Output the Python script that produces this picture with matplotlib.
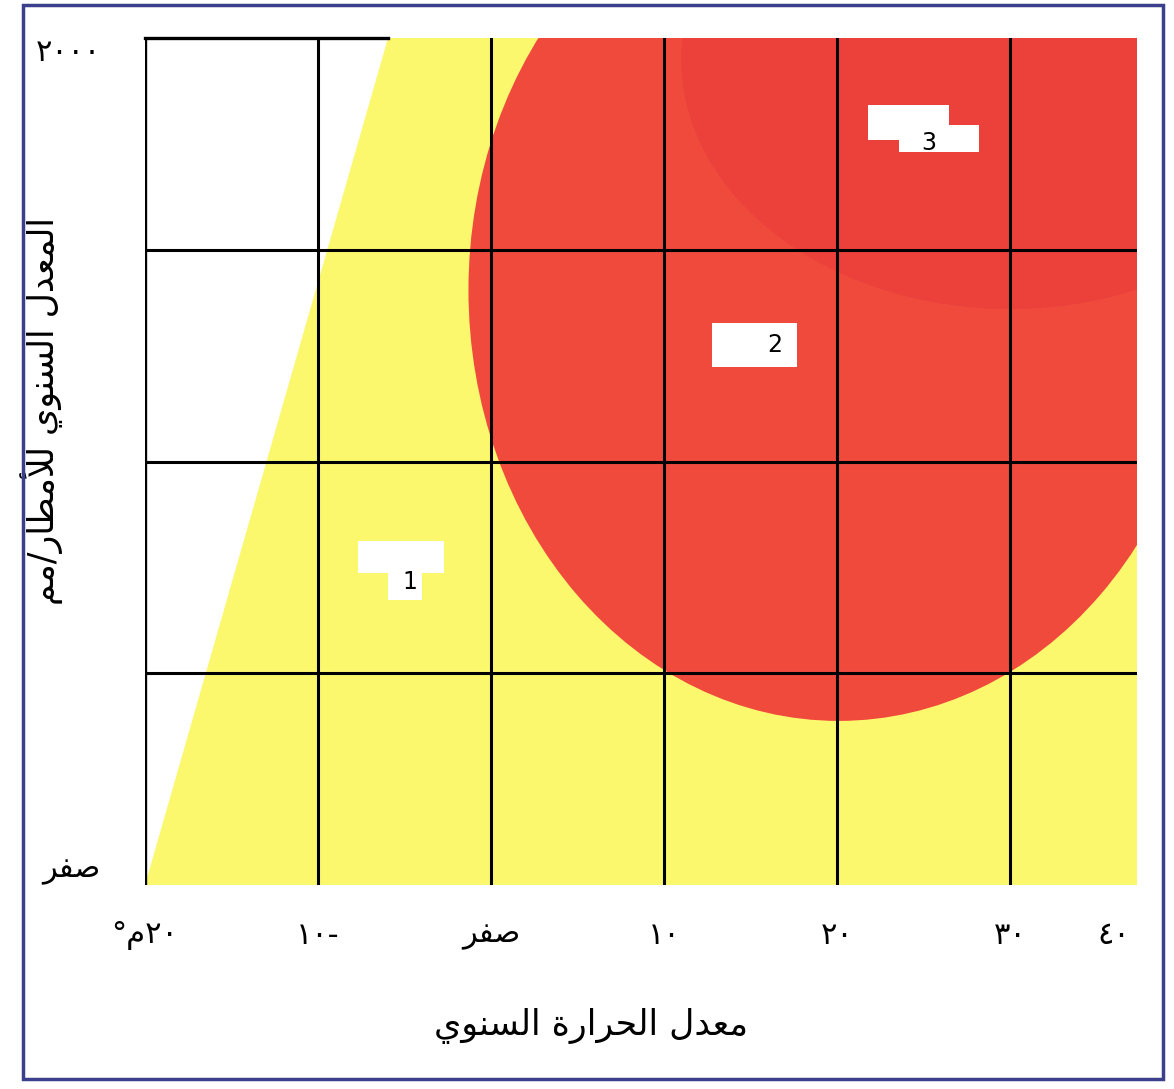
import re
import matplotlib
matplotlib.use("Agg")
import matplotlib.pyplot as plt
from matplotlib.patches import Ellipse, Polygon, Rectangle

# ---- data ----
x_min, x_max = -20, 37.35
y_min, y_max = 0, 2000
grid_x = [-10, 0, 10, 20, 30]
grid_y = [500, 1000, 1500]

x_ticks = [-20, -10, 0, 10, 20, 30, 36]
x_tick_labels = ["٢٠م°", "-١٠", "صفر", "١٠", "٢٠", "٣٠", "٤٠"]
y_ticks = [0, 2000]
y_tick_labels = ["صفر", "٢٠٠٠"]

x_label = "معدل الحرارة السنوي"
y_label = "المعدل السنوي للأمطار/مم"

# yellow zone: left boundary at y = 0 and y = 2000
yellow_edge_x = [-20, -5.95]
# red zone (ellipse) and its slightly darker core
red_center = (20.1, 1405)
red_size = (42.8, 2035)
core_center = (30.0, 1950)
core_size = (38.0, 1180)

# white patches with zone numbers
zone_names = ["1", "2", "3"]
zone_text_xy = [(-4.7, 715), (16.4, 1275), (25.3, 1752)]
patch_rects = [
    [(-7.7, 736, 5.0, 76), (-5.95, 673, 1.95, 90)],
    [(12.8, 1223, 4.9, 104)],
    [(21.8, 1759, 4.7, 83), (23.6, 1731, 4.6, 64)],
]

# ---- minimal arabic shaping (matplotlib draws glyphs left to right) ----
FORMS = {
    "\u0627": ("\uFE8D", "\uFE8E", None, None),
    "\u0623": ("\uFE83", "\uFE84", None, None),
    "\u062F": ("\uFEA9", "\uFEAA", None, None),
    "\u0631": ("\uFEAD", "\uFEAE", None, None),
    "\u0629": ("\uFE93", "\uFE94", None, None),
    "\u0648": ("\uFEED", "\uFEEE", None, None),
    "\u062D": ("\uFEA1", "\uFEA2", "\uFEA3", "\uFEA4"),
    "\u0633": ("\uFEB1", "\uFEB2", "\uFEB3", "\uFEB4"),
    "\u0635": ("\uFEB9", "\uFEBA", "\uFEBB", "\uFEBC"),
    "\u0637": ("\uFEC1", "\uFEC2", "\uFEC3", "\uFEC4"),
    "\u0639": ("\uFEC9", "\uFECA", "\uFECB", "\uFECC"),
    "\u0641": ("\uFED1", "\uFED2", "\uFED3", "\uFED4"),
    "\u0644": ("\uFEDD", "\uFEDE", "\uFEDF", "\uFEE0"),
    "\u0645": ("\uFEE1", "\uFEE2", "\uFEE3", "\uFEE4"),
    "\u0646": ("\uFEE5", "\uFEE6", "\uFEE7", "\uFEE8"),
    "\u064A": ("\uFEF1", "\uFEF2", "\uFEF3", "\uFEF4"),
}
LAM_ALEF = {"\u0627": ("\uFEFB", "\uFEFC"), "\u0623": ("\uFEF7", "\uFEF8")}
DIGITS = "٠١٢٣٤٥٦٧٨٩"


def shape(text):
    out = []
    prev_joins = False
    i = 0
    while i < len(text):
        c = text[i]
        nxt = text[i + 1] if i + 1 < len(text) else ""
        if c not in FORMS:
            out.append(c)
            prev_joins = False
            i += 1
            continue
        if c == "\u0644" and nxt in LAM_ALEF:
            out.append(LAM_ALEF[nxt][1 if prev_joins else 0])
            prev_joins = False
            i += 2
            continue
        iso, fin, ini, med = FORMS[c]
        next_ok = ini is not None and nxt in FORMS
        if prev_joins and next_ok:
            out.append(med)
        elif prev_joins:
            out.append(fin)
        elif next_ok:
            out.append(ini)
        else:
            out.append(iso)
        prev_joins = next_ok
        i += 1
    return "".join(out)


def rtl(text):
    runs = re.findall("[" + DIGITS + "]+|[^" + DIGITS + "]+", shape(text))
    return "".join(r if r[0] in DIGITS else r[::-1] for r in reversed(runs))


plt.rcParams["font.family"] = ["DejaVu Sans"]

fig = plt.figure(figsize=(11.74, 10.89), dpi=100)
ax = fig.add_axes([0.1235, 0.1873, 0.845, 0.7778])
ax.set_xlim(x_min, x_max)
ax.set_ylim(y_min, y_max)
for s in ax.spines.values():
    s.set_visible(False)

yellow = "#FBF86E"
red = "#F04A3D"

ax.add_patch(Polygon([(yellow_edge_x[0], y_min), (yellow_edge_x[1], y_max),
                      (x_max, y_max), (x_max, y_min)],
                     closed=True, facecolor=yellow, edgecolor="none", zorder=1))
red_zone = Ellipse(red_center, *red_size, facecolor=red, edgecolor="none", zorder=2)
ax.add_patch(red_zone)
core = Ellipse(core_center, *core_size, facecolor="#EC403B", edgecolor="none", zorder=2.5)
ax.add_patch(core)
core.set_clip_path(red_zone)

# grid
for gx in grid_x:
    ax.plot([gx, gx], [y_min, y_max], color="black", lw=2.2, zorder=3)
for gy in grid_y:
    ax.plot([x_min, x_max], [gy, gy], color="black", lw=2.2, zorder=3)
ax.plot([x_min, x_min], [y_min, y_max], color="black", lw=2.4, zorder=3)
ax.plot([x_min, yellow_edge_x[1]], [y_max, y_max], color="black", lw=2.4, zorder=3,
        clip_on=False)

# white label patches
for rects, name, (tx, ty) in zip(patch_rects, zone_names, zone_text_xy):
    for (rx, ry, rw, rh) in rects:
        ax.add_patch(Rectangle((rx, ry), rw, rh, facecolor="white", edgecolor="none", zorder=4))
    ax.text(tx, ty, name, fontsize=17, ha="center", va="center", zorder=5)

ax.set_xticks(x_ticks)
ax.set_xticklabels([rtl(t) for t in x_tick_labels], fontsize=22)
ax.set_yticks(y_ticks)
ax.set_yticklabels([rtl(t) for t in y_tick_labels], fontsize=22)
ax.tick_params(length=0, pad=26)
ax.tick_params(axis="y", pad=32)
ylabels = ax.get_yticklabels()
ylabels[0].set_va("bottom")
ylabels[1].set_va("top")

ax.set_xlabel(rtl(x_label), fontsize=25)
ax.xaxis.set_label_coords(0.45, -0.145)
ax.set_ylabel(rtl(y_label), fontsize=25)
ax.yaxis.set_label_coords(-0.083, 0.56)

fig.patches.append(Rectangle((0.0196, 0.0092), 0.971, 0.986, transform=fig.transFigure,
                             fill=False, edgecolor="#3B3F8C", lw=2.5))

fig.savefig("out.png", dpi=100)
